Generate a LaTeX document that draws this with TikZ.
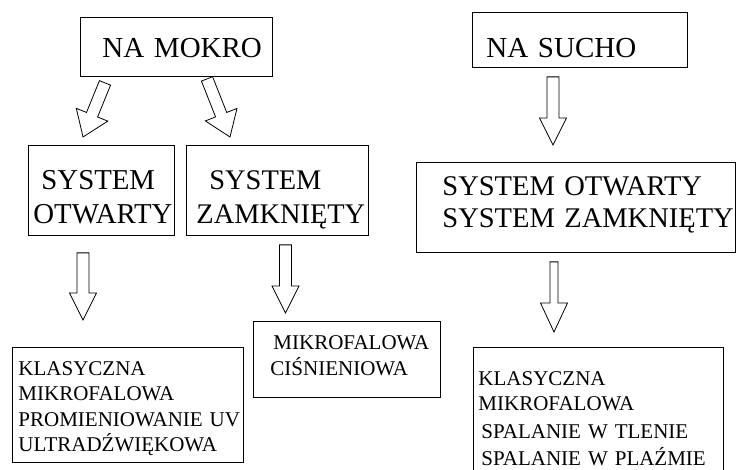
\documentclass[tikz,border=0pt]{standalone}
\usepackage{fontspec}
\setmainfont{Liberation Serif}
\usetikzlibrary{calc, backgrounds}

% hollow block arrow: shaft half width, head length, head half width, from, to
\newcommand{\blockarr}[5]{%
  \draw[barrow] let \p1=($(#5)-(#4)$), \n1={atan2(\y1,\x1)},
      \n2={veclen(\x1,\y1)} in [shift={(#4)}, rotate=\n1]
      (0,-#1) -- (\n2-#2,-#1) -- (\n2-#2,-#3) -- (\n2,0)
      -- (\n2-#2,#3) -- (\n2-#2,#1) -- (0,#1) -- cycle;}
% one unbroken line of box text
\newcommand{\boxline}[1]{\mbox{#1}}

\begin{document}
\begin{tikzpicture}[
    x=1pt,
    y=-1pt,
    box/.style={draw, fill=white, line width=0.9pt, inner ysep=0pt,
                anchor=north west, align=left},
    big/.style={font=\fontsize{29}{34}\selectfont},
    small/.style={font=\fontsize{21}{25.5}\selectfont},
    barrow/.style={draw, fill=white, line width=0.8pt, line join=miter},
]
\useasboundingbox (0,0) rectangle (736,470);

% top row
\node[box, big, inner xsep=22pt, text width=148pt, text height=40pt,
      text depth=19pt] (mokro) at (80,17) {\boxline{NA MOKRO}};
\node[box, big, inner xsep=14pt, text width=187pt, text height=45pt,
      text depth=10pt] (sucho) at (472,12) {\boxline{NA SUCHO}};

% middle row
\node[box, big, font=\fontsize{28.8}{34}\selectfont, inner xsep=5pt,
      text width=136pt, text height=44pt, text depth=46pt]
      (otw) at (28,145) {\boxline{\hspace*{8pt}SYSTEM}\\\boxline{OTWARTY}};
\node[box, big, font=\fontsize{28.4}{34}\selectfont, inner xsep=10pt,
      text width=162pt, text height=44pt, text depth=46pt]
      (zam) at (186,145) {\boxline{\hspace*{13pt}SYSTEM}\\\boxline{ZAMKNIĘTY}};
\node[box, big, font=\fontsize{28.5}{32}\selectfont, inner xsep=26pt,
      text width=267pt, text height=33pt, text depth=57pt]
      (both) at (416,162) {\boxline{SYSTEM OTWARTY}\\
       \boxline{SYSTEM ZAMKNIĘTY}};

% bottom row
\node[box, small, inner xsep=6pt, text width=219pt, text height=28pt,
      text depth=87pt] (metl) at (12,347)
      {\boxline{KLASYCZNA}\\\boxline{MIKROFALOWA}\\
       \boxline{PROMIENIOWANIE UV}\\\boxline{ULTRADŹWIĘKOWA}};
\node[box, small, font=\fontsize{21}{26}\selectfont, inner xsep=17pt,
      text width=153pt, text height=28pt, text depth=48pt] (metz)
      at (253,321) {\boxline{\hspace*{3pt}MIKROFALOWA}\\\boxline{CIŚNIENIOWA}};
\node[box, small, font=\fontsize{21}{25}\selectfont, inner xsep=5pt,
      text width=240pt, text height=38pt, text depth=87pt] (mets)
      at (473,347) {\boxline{KLASYCZNA}\\\boxline{MIKROFALOWA}\\[3pt]
      \boxline{\hspace*{3pt}SPALANIE W TLENIE}\\[2pt]
      \boxline{\hspace*{3pt}SPALANIE W PLAŹMIE}};

% arrow ends
\coordinate (a1s) at ([xshift=25pt, yshift=-6pt]mokro.south west);
\coordinate (a1e) at ([xshift=55pt, yshift=8pt]otw.north west);
\coordinate (a2s) at ([xshift=127pt, yshift=-2pt]mokro.south west);
\coordinate (a2e) at ([xshift=44pt, yshift=8pt]zam.north west);
\coordinate (a3s) at ([xshift=81pt, yshift=-9pt]sucho.south west);
\coordinate (a3e) at ([xshift=137pt, yshift=17pt]both.north west);
\coordinate (a4s) at ([xshift=138pt, yshift=-9pt]both.south west);
\coordinate (a4e) at ([xshift=81pt, yshift=15pt]mets.north west);
\coordinate (a5s) at ([xshift=55pt, yshift=-17pt]otw.south west);
\coordinate (a5e) at ([xshift=71pt, yshift=27pt]metl.north west);
\coordinate (a6s) at ([xshift=99.5pt, yshift=-9pt]zam.south west);
\coordinate (a6e) at ([xshift=32.5pt, yshift=8pt]metz.north west);

\begin{scope}[on background layer]
\blockarr{6}{24}{17}{a1s}{a1e}
\blockarr{6}{24}{17}{a2s}{a2e}
\blockarr{6}{27}{13.5}{a3s}{a3e}
\blockarr{4}{29}{13.5}{a4s}{a4e}
\blockarr{6}{27}{13.5}{a5s}{a5e}
\blockarr{6}{27}{13.5}{a6s}{a6e}
\end{scope}
\end{tikzpicture}
\end{document}
